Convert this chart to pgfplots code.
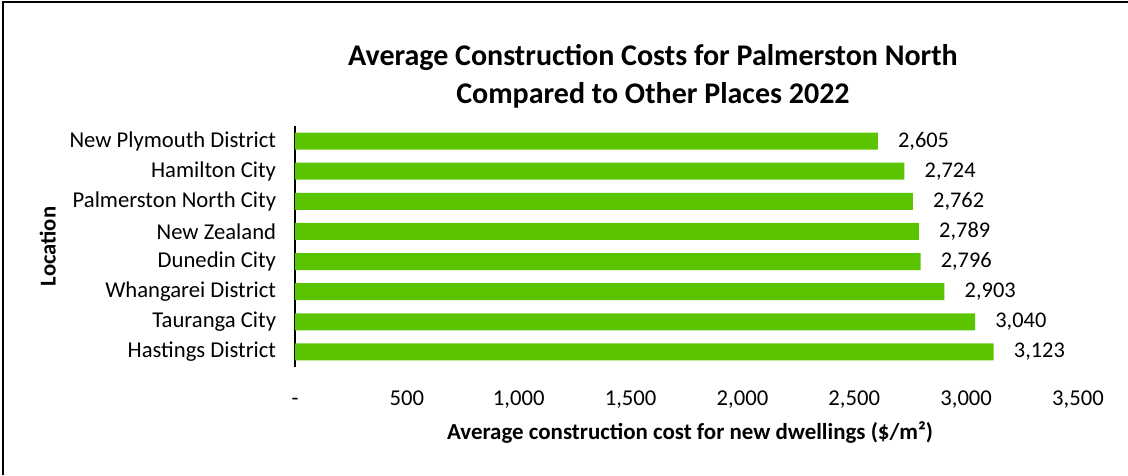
\documentclass[border=0pt]{standalone}
\usepackage{fontspec}
\setmainfont{Carlito}
\usepackage{pgfplots}
\pgfplotsset{compat=1.18}
\definecolor{barGreen}{RGB}{91,196,0}

\begin{document}
\begin{tikzpicture}
% 1 px of the reference = 0.75pt; axis origin at pixel (295,367)
\useasboundingbox (-221.25pt,-81pt) rectangle (624.75pt,275.25pt);
\draw[line width=1.5pt] (-219pt,-81pt) -- (-219pt,273.75pt) -- (624.75pt,273.75pt);

\begin{axis}[
    at={(0pt,0pt)}, anchor=south west,
    scale only axis,
    width=587.25pt, height=180.75pt,
    xbar, bar width=12.75pt,
    xmin=0, xmax=3500,
    ymin=-0.5, ymax=7.5,
    axis x line*=bottom, axis y line*=left,
    x axis line style={draw=none},
    y axis line style={black, line width=1.1pt},
    xtick={0,500,...,3500},
    xticklabels={-,500,{1,000},{1,500},{2,000},{2,500},{3,000},{3,500}},
    ytick={0,...,7},
    yticklabels={Hastings District, Tauranga City, Whangarei District, Dunedin City,
                 New Zealand, Palmerston North City, Hamilton City, New Plymouth District},
    major tick length=0pt,
    tick label style={font=\fontsize{17}{18}\selectfont, black},
    xticklabel style={anchor=base, yshift=-29pt},
    yticklabel style={anchor=east, inner sep=0pt, xshift=-14pt},
    /pgf/number format/assume math mode=true,
    point meta=x,
    nodes near coords={\pgfmathprintnumber[fixed,1000 sep={,}]{\pgfplotspointmeta}},
    nodes near coords style={font=\fontsize{16.8}{18}\selectfont, black, anchor=west, inner sep=0pt, xshift=15pt},
]
\addplot[fill=barGreen, draw=none] coordinates {
    (3123,0) (3040,1) (2903,2) (2796,3) (2789,4) (2762,5) (2724,6) (2605,7)
};
\end{axis}

\node[font=\bfseries\fontsize{17.2}{18}\selectfont] at (296.25pt,-49.5pt)
    {Average construction cost for new dwellings (\$/m²)};
\node[rotate=90, font=\bfseries\fontsize{17}{18}\selectfont] at (-185.5pt,90.4pt) {Location};
\node[align=center, font=\bfseries\fontsize{22.5}{28.5}\selectfont] at (268.5pt,218.25pt)
    {Average Construction Costs for Palmerston North\\Compared to Other Places 2022};
\end{tikzpicture}
\end{document}
